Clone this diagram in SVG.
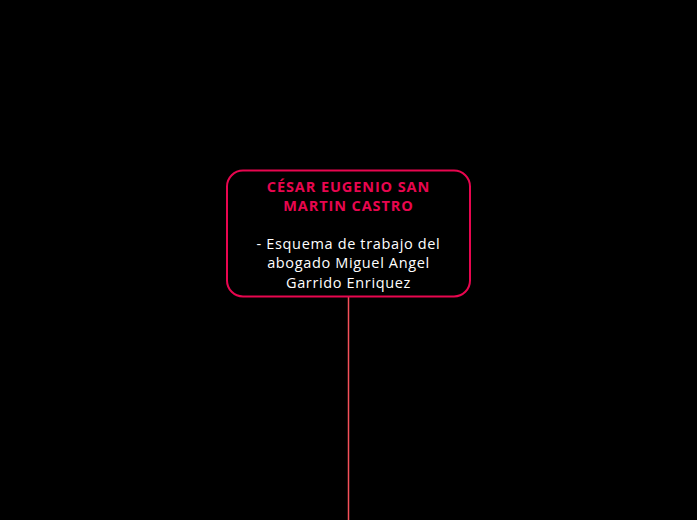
<svg xmlns="http://www.w3.org/2000/svg" width="697" height="520" viewBox="0 0 697 520">
<style>
.t{font-family:"Open Sans","Noto Sans",sans-serif;font-size:14.5px;text-anchor:middle}
.h{fill:#e8064f;font-weight:bold;letter-spacing:0.9px}
.b{fill:#ffffff;letter-spacing:0.65px}
</style>
<rect width="697" height="520" fill="#000000"/>
<g id="connectors">
<line x1="348.5" y1="297" x2="348.5" y2="520" stroke="#f5505a" stroke-width="1.5"/>
</g>
<g id="node-main">
<rect x="227" y="170.5" width="243" height="126" rx="16" fill="#000000" stroke="#e8064f" stroke-width="2"/>
<text class="t h" x="348.5" y="192">CÉSAR EUGENIO SAN</text>
<text class="t h" x="348.5" y="211">MARTIN CASTRO</text>
<text class="t b" x="348.5" y="249">- Esquema de trabajo del</text>
<text class="t b" x="348.5" y="268">abogado Miguel Angel</text>
<text class="t b" x="348.5" y="288">Garrido Enriquez</text>
</g>
</svg>
